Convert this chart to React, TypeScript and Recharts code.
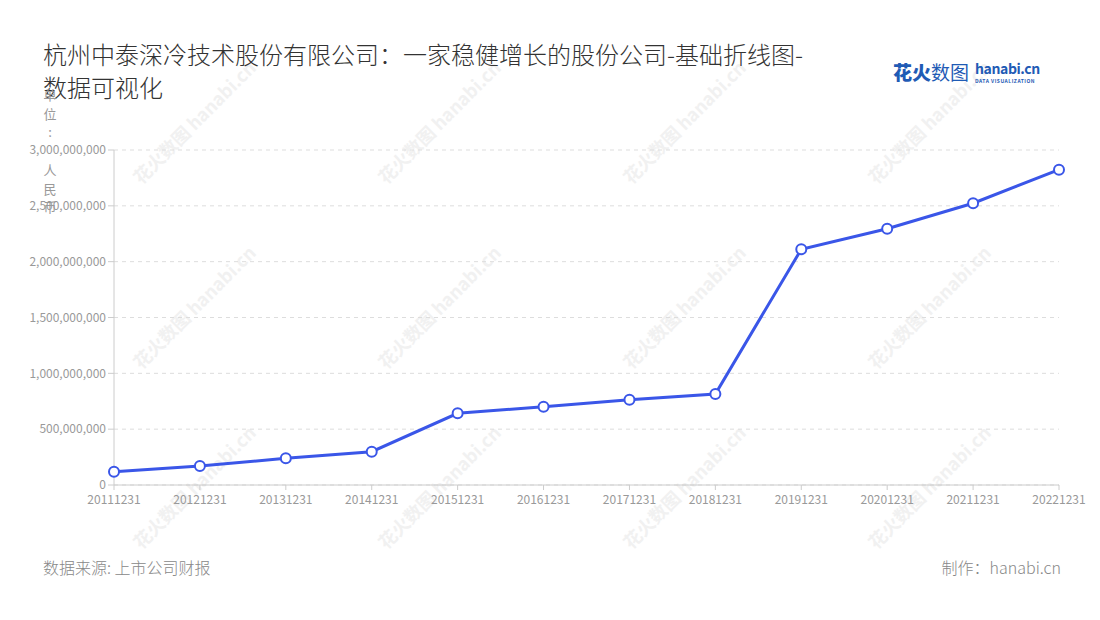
import React from 'react';
import { LineChart, Line, XAxis, YAxis, CartesianGrid } from 'recharts';

const categories = ['20111231','20121231','20131231','20141231','20151231','20161231','20171231','20181231','20191231','20201231','20211231','20221231'];
const values = [119000000, 170000000, 239000000, 298000000, 642000000, 701000000, 764000000, 815000000, 2111000000, 2295000000, 2523000000, 2824000000];
const yTicks = [0, 500000000, 1000000000, 1500000000, 2000000000, 2500000000, 3000000000];
const unitChars = ['单','位',':',' ','人','民','币'];
const title1 = '杭州中泰深冷技术股份有限公司：一家稳健增长的股份公司-基础折线图-';
const title2 = '数据可视化';
const sourceText = '数据来源: 上市公司财报';
const makerText = '制作：hanabi.cn';

const data = categories.map((c, i) => ({ date: c, value: values[i] }));
const FONT = '"Noto Sans CJK SC", "Noto Sans", sans-serif';

const wmCenters: [number, number][] = [];
[130, 315, 495].forEach((y) => [185, 430, 675, 920].forEach((x) => wmCenters.push([x, y])));

export default function App() {
  return (
    <div style={{ position: 'absolute', left: 0, top: 0, width: 1100, height: 620, background: '#fff', fontFamily: FONT, overflow: 'hidden' }}>
      {wmCenters.map(([x, y], i) => (
        <div key={i} style={{ position: 'absolute', left: x - 70, top: y - 12, width: 140, height: 24, transform: 'rotate(-45deg)', color: '#f1f1f1', fontSize: 18, fontWeight: 700, whiteSpace: 'nowrap', textAlign: 'center', lineHeight: '24px' }}>
          花火数图 hanabi.cn
        </div>
      ))}
      <div style={{ position: 'absolute', left: 0, top: 0 }}>
        <LineChart width={1100} height={620} data={data} margin={{ top: 150, right: 41, bottom: 105, left: 14 }}>
          <CartesianGrid vertical={false} stroke="#dddddd" strokeDasharray="4 4" />
          <XAxis dataKey="date" stroke="#cccccc" tickLine={{ stroke: '#cccccc' }} tick={{ fill: '#999999', fontSize: 12, fontFamily: FONT }} tickSize={5} tickMargin={5} interval={0} height={30} />
          <YAxis width={100} domain={[0, 3000000000]} ticks={yTicks} stroke="#cccccc" tickLine={{ stroke: '#cccccc' }} tick={{ fill: '#999999', fontSize: 12, fontFamily: FONT }} tickSize={6} tickFormatter={(v: number) => v.toLocaleString('en-US')} />
          <Line type="linear" dataKey="value" stroke="#3a56e8" strokeWidth={3} dot={{ r: 5, fill: '#ffffff', stroke: '#3a56e8', strokeWidth: 2 }} isAnimationActive={false} />
        </LineChart>
      </div>
      <div style={{ position: 'absolute', left: 43, top: 37, fontSize: 24, fontWeight: 300, color: '#333333', lineHeight: '33px', whiteSpace: 'nowrap' }}>
        <div>{title1}</div>
        <div>{title2}</div>
      </div>
      {unitChars.map((ch, i) => (
        <div key={i} style={{ position: 'absolute', left: 42, top: 86 + i * 18.7, width: 16, textAlign: 'center', fontSize: 13, color: '#999999', lineHeight: '18px' }}>{ch}</div>
      ))}
      <div style={{ position: 'absolute', left: 893, top: 59, fontSize: 19, fontWeight: 900, color: '#1f5bb5', whiteSpace: 'nowrap', lineHeight: '26px' }}>花火<span style={{ fontWeight: 400 }}>数图</span></div>
      <div style={{ position: 'absolute', left: 975, top: 59, fontSize: 14, fontWeight: 700, color: '#1f5bb5', whiteSpace: 'nowrap', lineHeight: '19px', letterSpacing: -0.4 }}>hanabi.cn</div>
      <div style={{ position: 'absolute', left: 975, top: 77, fontSize: 5, fontWeight: 700, color: '#1f5bb5', whiteSpace: 'nowrap', lineHeight: '7px', letterSpacing: 0.5 }}>DATA VISUALIZATION</div>
      <div style={{ position: 'absolute', left: 43, top: 556, fontSize: 16, fontWeight: 300, color: '#888888', whiteSpace: 'nowrap', lineHeight: '22px' }}>{sourceText}</div>
      <div style={{ position: 'absolute', right: 39, top: 556, fontSize: 16, fontWeight: 300, color: '#888888', whiteSpace: 'nowrap', lineHeight: '22px' }}>{makerText}</div>
    </div>
  );
}
